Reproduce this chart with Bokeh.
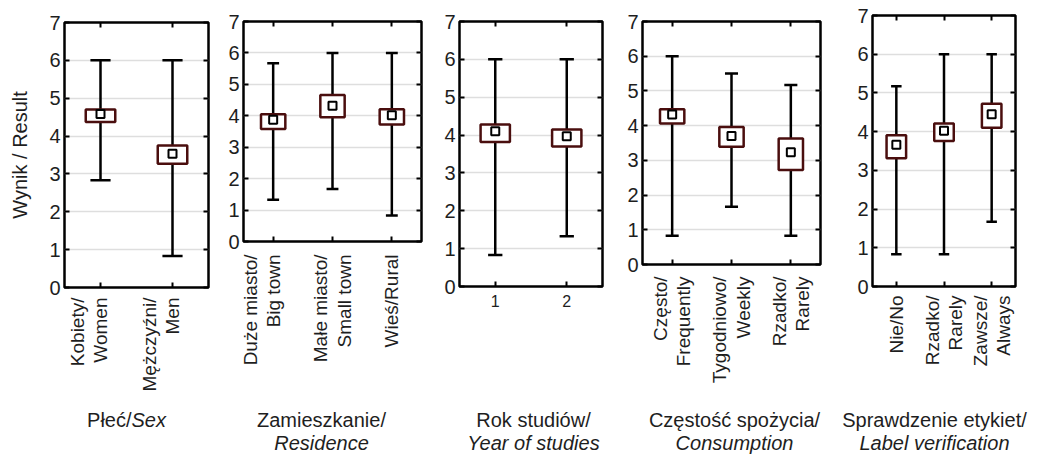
import math
import numpy as np
from bokeh.plotting import figure
from bokeh.models import Range1d, LinearAxis, FixedTicker, GlobalInlineStyleSheet
from bokeh.core.properties import value
from bokeh.layouts import row, column
from bokeh.embed import file_html
from bokeh.resources import INLINE

FONT = "Liberation Sans"

# ---------------- data ----------------
y_ticks = [0, 1, 2, 3, 4, 5, 6, 7]

# (a trailing empty line keeps the second line of these labels on the tick, as in the original)
sex_cats = ["Kobiety/\nWomen\n", "Mężczyźni/\nMen\n"]
sex_mean = [4.58, 3.53]
sex_box_lo = [4.37, 3.27]
sex_box_hi = [4.70, 3.75]
sex_min = [2.83, 0.83]
sex_max = [6.00, 6.00]

res_cats = ["Duże miasto/\nBig town\n", "Małe miasto/\nSmall town", "Wieś/Rural"]
res_mean = [3.87, 4.32, 4.02]
res_box_lo = [3.58, 3.95, 3.72]
res_box_hi = [4.05, 4.66, 4.21]
res_min = [1.33, 1.67, 0.83]
res_max = [5.67, 6.00, 6.00]

year_cats = ["1", "2"]
year_mean = [4.10, 3.97]
year_box_lo = [3.82, 3.70]
year_box_hi = [4.28, 4.15]
year_min = [0.83, 1.33]
year_max = [6.00, 6.00]

cons_cats = ["Często/\nFrequently", "Tygodniowo/\nWeekly", "Rzadko/\nRarely"]
cons_mean = [4.32, 3.70, 3.23]
cons_box_lo = [4.06, 3.39, 2.72]
cons_box_hi = [4.47, 3.96, 3.63]
cons_min = [0.83, 1.66, 0.83]
cons_max = [6.00, 5.50, 5.17]

lab_cats = ["Nie/No", "Rzadko/\nRarely", "Zawsze/\nAlways"]
lab_mean = [3.66, 4.02, 4.45]
lab_box_lo = [3.31, 3.76, 4.10]
lab_box_hi = [3.91, 4.21, 4.72]
lab_min = [0.83, 0.83, 1.67]
lab_max = [5.17, 6.00, 6.00]

sex_title = [("Płeć/", "normal"), ("Sex", "italic")]
res_title = [("Zamieszkanie/", "normal"), ("Residence", "italic")]
year_title = [("Rok studiów/", "normal"), ("Year of studies", "italic")]
cons_title = [("Częstość spożycia/", "normal"), ("Consumption", "italic")]
lab_title = [("Sprawdzenie etykiet/", "normal"), ("Label verification", "italic")]

# -------------- layout (page pixel coords) --------------
CHART_H = 400
TITLE_H = 54
BOX_COLOR = "#4a0e0e"
TEXT = "#1e1e1e"


def panel(cats, mean, lo, hi, wmin, wmax, fig_l, fr_l, fr_r, fig_r, fr_t, fr_b,
          cap_hw, vertical=True, standoff=10, ylabel=None, title=None,
          title_x=None, inline_title=False):
    n = len(cats)
    xs = np.arange(1, n + 1, dtype=float)
    W = fig_r - fig_l
    p = figure(width=W, height=CHART_H,
               x_range=Range1d(0.5, n + 0.5), y_range=Range1d(0, 7),
               output_backend="svg", toolbar_location=None, frame_align=False,
               min_border_left=fr_l - fig_l, min_border_right=fig_r - fr_r,
               min_border_top=fr_t, min_border_bottom=CHART_H - fr_b)
    p.outline_line_color = "black"
    p.outline_line_width = 2.5
    p.outline_line_alpha = 1.0
    p.background_fill_color = "white"
    p.border_fill_color = "white"

    p.xgrid.grid_line_color = None
    p.ygrid.grid_line_color = "#dedede"
    p.ygrid.grid_line_width = 1.5

    for ax in [p.xaxis[0], p.yaxis[0]]:
        ax.axis_line_color = None
        ax.major_tick_in = 5
        ax.major_tick_out = 0
        ax.major_tick_line_width = 2
        ax.major_tick_line_color = "black"
        ax.minor_tick_line_color = None
        ax.major_label_text_font = FONT
        ax.major_label_text_color = TEXT

    yax = p.yaxis[0]
    yax.ticker = FixedTicker(ticks=y_ticks)
    yax.major_label_text_font_size = "20px"
    yax.major_label_standoff = 4
    if ylabel:
        yax.axis_label = ylabel
        yax.axis_label_text_font = FONT
        yax.axis_label_text_font_size = "20px"
        yax.axis_label_text_font_style = "normal"
        yax.axis_label_text_color = TEXT
        yax.axis_label_standoff = 15

    xax = p.xaxis[0]
    xax.ticker = FixedTicker(ticks=list(xs))
    xax.major_label_overrides = {i + 1: c for i, c in enumerate(cats)}
    if vertical:
        xax.major_label_orientation = math.pi / 2
        xax.major_label_text_font_size = "19px"
        xax.major_label_text_line_height = 1.1
    else:
        xax.major_label_text_font_size = "16px"
    xax.major_label_standoff = standoff

    for side, tk in (("right", y_ticks), ("above", list(xs))):
        a = LinearAxis(ticker=FixedTicker(ticks=tk),
                       major_label_overrides={t: "" for t in tk},
                       major_label_text_font_size="0px", major_label_standoff=0,
                       major_tick_in=5, major_tick_out=0, major_tick_line_width=2,
                       major_tick_line_color="black", minor_tick_line_color=None,
                       axis_line_color=None)
        p.add_layout(a, side)

    # whiskers
    p.segment(x0=xs, y0=wmin, x1=xs, y1=wmax, line_color="black", line_width=2.5)
    p.segment(x0=xs - cap_hw, y0=wmin, x1=xs + cap_hw, y1=wmin, line_color="black", line_width=2.5)
    p.segment(x0=xs - cap_hw, y0=wmax, x1=xs + cap_hw, y1=wmax, line_color="black", line_width=2.5)
    # boxes
    p.quad(left=xs - 0.205, right=xs + 0.205, bottom=lo, top=hi,
           fill_color="white", line_color=BOX_COLOR, line_width=2.5)
    # means
    p.scatter(x=xs, y=mean, marker="square", size=8, fill_color="white",
              line_color="black", line_width=2)

    # ---- title strip under the panel (pixel coordinates of the page) ----
    t = figure(width=W, height=TITLE_H,
               x_range=Range1d(fig_l, fig_r), y_range=Range1d(CHART_H + TITLE_H, CHART_H),
               output_backend="svg", toolbar_location=None, frame_align=False,
               min_border=0, x_axis_type=None, y_axis_type=None)
    t.outline_line_color = None
    t.grid.visible = False
    t.background_fill_color = "white"
    t.border_fill_color = "white"
    base1, base2 = 419, 442
    (t1, s1), (t2, s2) = title
    common = dict(text_font=value(FONT), text_font_size=value("20px"),
                  text_color=TEXT, text_baseline=value("alphabetic"))
    if inline_title:
        t.text(x=[title_x], y=[base1], text=[t1], text_align=value("right"),
               text_font_style=value(s1), **common)
        t.text(x=[title_x], y=[base1], text=[t2], text_align=value("left"),
               text_font_style=value(s2), **common)
    else:
        t.text(x=[title_x], y=[base1], text=[t1], text_align=value("center"),
               text_font_style=value(s1), **common)
        t.text(x=[title_x], y=[base2], text=[t2], text_align=value("center"),
               text_font_style=value(s2), **common)
    return column(p, t, spacing=0)


c1 = panel(sex_cats, sex_mean, sex_box_lo, sex_box_hi, sex_min, sex_max,
           0, 64, 208, 220, 22, 287, cap_hw=0.14, standoff=10,
           ylabel="Wynik / Result", title=sex_title, title_x=131, inline_title=True)
c2 = panel(res_cats, res_mean, res_box_lo, res_box_hi, res_min, res_max,
           220, 243, 421, 432, 21, 241, cap_hw=0.1, standoff=13,
           title=res_title, title_x=321)
c3 = panel(year_cats, year_mean, year_box_lo, year_box_hi, year_min, year_max,
           432, 459, 602, 615, 21, 286, cap_hw=0.1, vertical=False, standoff=8,
           title=year_title, title_x=533)
c4 = panel(cons_cats, cons_mean, cons_box_lo, cons_box_hi, cons_min, cons_max,
           615, 642, 820, 838, 21, 264, cap_hw=0.11, standoff=12,
           title=cons_title, title_x=734)
c5 = panel(lab_cats, lab_mean, lab_box_lo, lab_box_hi, lab_min, lab_max,
           838, 872, 1015, 1040, 15, 286, cap_hw=0.11, standoff=9,
           title=lab_title, title_x=934)

layout = row(c1, c2, c3, c4, c5, spacing=0,
             stylesheets=[GlobalInlineStyleSheet(
                 css="html, body { margin: 0 !important; padding: 0 !important; overflow: hidden; }")])

open("out.html", "w").write(file_html(layout, INLINE))
